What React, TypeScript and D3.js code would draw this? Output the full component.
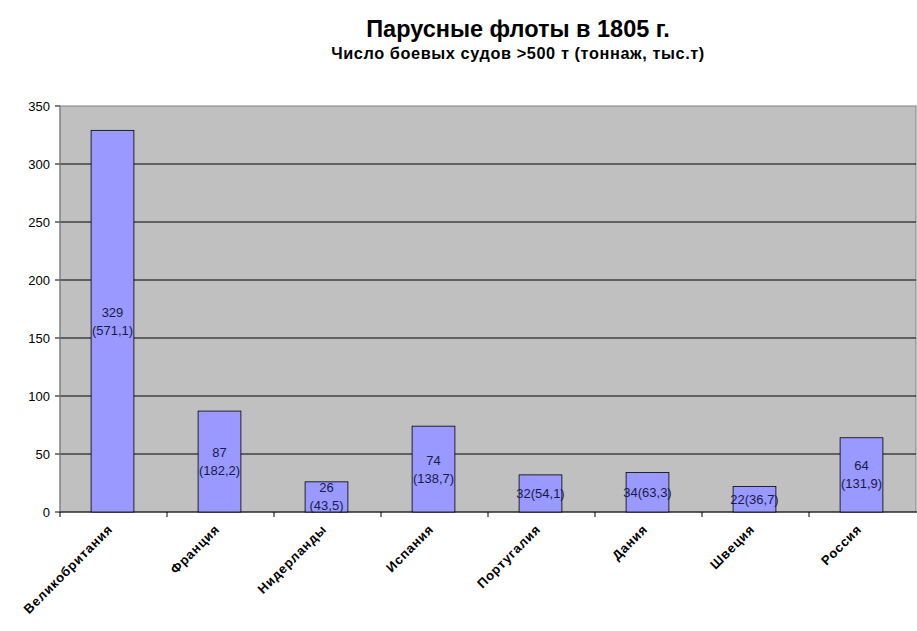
import React from "react";
import * as d3 from "d3";

const categories = ["Великобритания", "Франция", "Нидерланды", "Испания", "Португалия", "Дания", "Швеция", "Россия"];
const ships = [329, 87, 26, 74, 32, 34, 22, 64];
const labelLines = [
  ["329", "(571,1)"],
  ["87", "(182,2)"],
  ["26", "(43,5)"],
  ["74", "(138,7)"],
  ["32(54,1)"],
  ["34(63,3)"],
  ["22(36,7)"],
  ["64", "(131,9)"],
];
const yTicks = [0, 50, 100, 150, 200, 250, 300, 350];

const W = 917, H = 631;
const M = { left: 60, right: 1, top: 106, bottom: 119 };

export default function App() {
  const x = d3.scaleBand<string>().domain(categories).range([M.left, W - M.right]).paddingInner(0).paddingOuter(0);
  const y = d3.scaleLinear().domain([0, 350]).range([H - M.bottom, M.top]);
  const bw = x.bandwidth() * 0.4;
  const font = "'Liberation Sans', Arial, sans-serif";
  const y0 = y(0);
  return (
    <svg width={W} height={H} style={{ position: "absolute", left: 0, top: 0 }} fontFamily={font}>
      <rect x={0} y={0} width={W} height={H} fill="#fff" />
      <text x={518} y={37} textAnchor="middle" fontSize={23.5} fontWeight="bold" fill="#000">Парусные флоты в 1805 г.</text>
      <text x={518} y={59} textAnchor="middle" fontSize={16.3} fontWeight="bold" fill="#000" letterSpacing={0.6}>Число боевых судов &gt;500 т (тоннаж, тыс.т)</text>
      <rect x={M.left} y={M.top} width={W - M.right - M.left} height={y0 - M.top} fill="#c0c0c0" stroke="#808080" />
      {yTicks.filter(t => t > 0 && t < 350).map(t => (
        <line key={t} x1={M.left} x2={W - M.right} y1={y(t)} y2={y(t)} stroke="#000" strokeWidth={1} />
      ))}
      {yTicks.map(t => (
        <g key={"yt" + t}>
          <line x1={M.left - 5} x2={M.left} y1={y(t)} y2={y(t)} stroke="#000" />
          <text x={M.left - 10} y={y(t)} dy="0.35em" textAnchor="end" fontSize={13} fill="#000">{t}</text>
        </g>
      ))}
      <line x1={M.left} x2={M.left} y1={M.top} y2={y0} stroke="#808080" />
      <line x1={M.left} x2={W} y1={y0} y2={y0} stroke="#000" />
      {categories.map((c, i) => (
        <line key={"xt" + i} x1={x(c)!} x2={x(c)!} y1={y0} y2={y0 + 5} stroke="#000" />
      ))}
      {categories.map((c, i) => {
        const cx = x(c)! + x.bandwidth() / 2;
        const top = y(ships[i]);
        const mid = (top + y0) / 2;
        const lines = labelLines[i];
        return (
          <g key={c}>
            <rect x={cx - bw / 2 - 1} y={top} width={bw} height={y0 - top} fill="#9999ff" stroke="#000" strokeWidth={0.8} />
            {lines.map((l, j) => (
              <text key={j} x={cx - 1} y={mid + (j - (lines.length - 1) / 2) * 18} dy="0.35em" textAnchor="middle" fontSize={13} fill="#1a1a4a">{l}</text>
            ))}
            <text transform={`translate(${cx},${y0 + 18}) rotate(-45)`} textAnchor="end" fontSize={13} fontWeight="bold" fill="#000" letterSpacing={0.8}>{c}</text>
          </g>
        );
      })}
    </svg>
  );
}
